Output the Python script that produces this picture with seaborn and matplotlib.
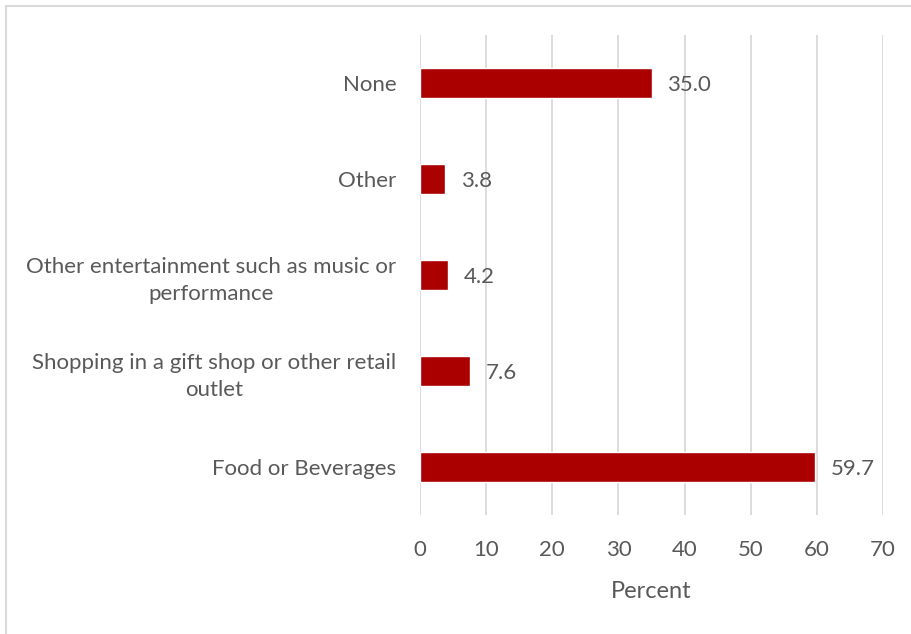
import matplotlib
matplotlib.use("Agg")
import matplotlib.pyplot as plt
from matplotlib.patches import Rectangle
import seaborn as sns
import pandas as pd

categories = [
    "None",
    "Other",
    "Other entertainment such as music or\nperformance",
    "Shopping in a gift shop or other retail\noutlet",
    "Food or Beverages",
]
percent = [35.0, 3.8, 4.2, 7.6, 59.7]
x_ticks = [0, 10, 20, 30, 40, 50, 60, 70]

df = pd.DataFrame({"category": categories, "percent": percent})

sns.set_theme(style="white")
plt.rcParams["font.family"] = ["Lato", "DejaVu Sans"]

text_color = "#595959"
grid_color = "#D9D9D9"
bar_color = "#AA0000"

W, H = 911, 634
fig = plt.figure(figsize=(W / 100, H / 100), dpi=100)
ax = fig.add_axes([420 / W, 1 - 515 / H, (883 - 420) / W, (515 - 35) / H])

sns.barplot(data=df, x="percent", y="category", order=categories,
            color=bar_color, saturation=1, width=0.31, ax=ax, zorder=3)

ax.set_xlim(0, 70)
ax.set_ylim(4.5, -0.5)
ax.set_xticks(x_ticks)
ax.set_xticklabels([str(t) for t in x_ticks])
ax.xaxis.grid(True, color=grid_color, linewidth=1.3, zorder=0)
ax.set_axisbelow(True)
for s in ax.spines.values():
    s.set_visible(False)
ax.tick_params(axis="both", length=0, colors=text_color, labelsize=16)
ax.tick_params(axis="x", pad=18)
ax.tick_params(axis="y", pad=17)
for lbl in ax.get_yticklabels():
    lbl.set_horizontalalignment("right")
    lbl.set_multialignment("center")
    lbl.set_linespacing(1.45)
ax.set_ylabel("")
ax.set_xlabel("Percent", color=text_color, fontsize=17, labelpad=15)

for i, v in enumerate(percent):
    ax.text(v + 2.4, i, f"{v:.1f}", va="center_baseline", ha="left",
            color=text_color, fontsize=16)

# outer chart border
fig.patches.append(Rectangle((6 / W, -0.1), 2, 1.1 - 6 / H,
                             transform=fig.transFigure, fill=False,
                             edgecolor=grid_color, linewidth=1.5))

fig.savefig("out.png", dpi=100)
